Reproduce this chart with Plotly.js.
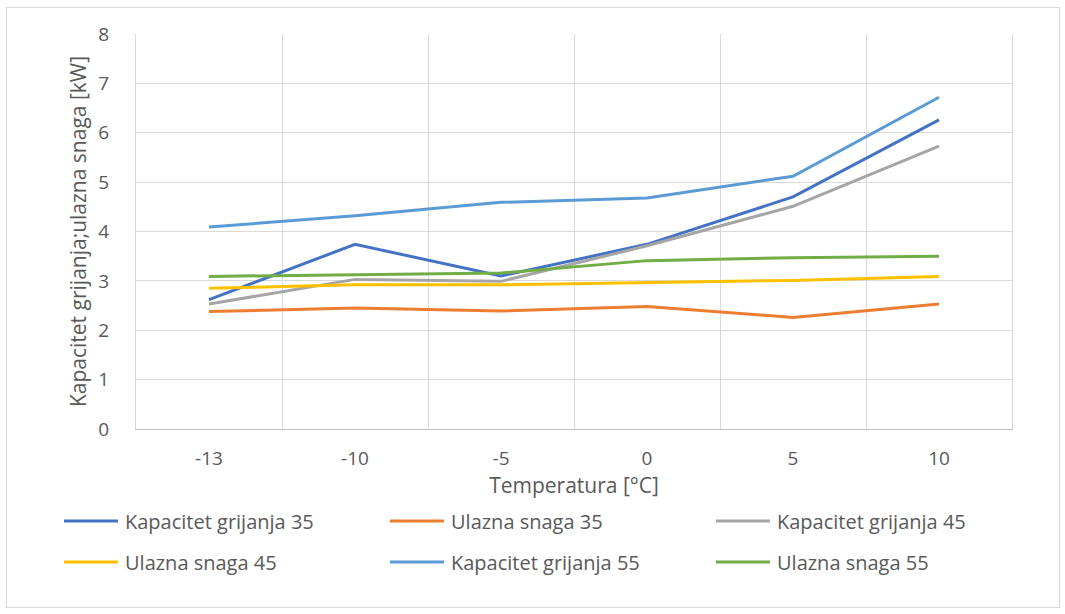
<!DOCTYPE html>
<html>
<head>
<meta charset="utf-8">
<script src="https://cdn.plot.ly/plotly-3.0.1.min.js"></script>
<style>
html,body{margin:0;padding:0;background:#fff;}
#wrap{position:relative;width:1065px;height:614px;}
#chart{width:1065px;height:614px;}
#frame{position:absolute;left:6px;top:7px;width:1052px;height:599px;border:1px solid #D9D9D9;pointer-events:none;}
</style>
</head>
<body>
<div id="wrap"><div id="chart"></div><div id="frame"></div></div>
<script>
const categories = ["-13", "-10", "-5", "0", "5", "10"];
const kapacitet35 = [2.62, 3.74, 3.10, 3.74, 4.70, 6.26];
const ulazna35 = [2.38, 2.45, 2.39, 2.48, 2.26, 2.53];
const kapacitet45 = [2.53, 3.03, 2.99, 3.71, 4.51, 5.73];
const ulazna45 = [2.85, 2.92, 2.92, 2.97, 3.01, 3.09];
const kapacitet55 = [4.09, 4.32, 4.59, 4.68, 5.12, 6.72];
const ulazna55 = [3.09, 3.13, 3.16, 3.41, 3.47, 3.50];
const seriesNames = ["Kapacitet grijanja 35", "Ulazna snaga 35", "Kapacitet grijanja 45",
                     "Ulazna snaga 45", "Kapacitet grijanja 55", "Ulazna snaga 55"];
const seriesColors = ["#4472C4", "#ED7D31", "#A5A5A5", "#FFC000", "#5B9BD5", "#70AD47"];
const seriesValues = [kapacitet35, ulazna35, kapacitet45, ulazna45, kapacitet55, ulazna55];

const font = "Open Sans, Liberation Sans, sans-serif";
const textColor = "#595959";
const traces = seriesValues.map((v, i) => ({
  type: "scatter", mode: "lines", x: categories, y: v, name: seriesNames[i],
  line: {color: seriesColors[i], width: 3}, showlegend: false
}));

// Excel-style legend below the plot (3 columns x 2 rows), built from the series arrays
const W = 1065, H = 614, mL = 136, mR = 53, mT = 34, mB = 185;
const pw = W - mL - mR, ph = H - mT - mB;
const toPX = px => (px - mL) / pw;
const toPY = py => (H - mB - py) / ph;
const legCol0 = 64, legColStep = 326, legLineLen = 54, legTextGap = 5;
const legRow0 = 521, legRowStep = 41;
const shapes = [], annotations = [];
seriesNames.forEach((name, i) => {
  const col = i % 3, row = Math.floor(i / 3);
  const x0 = legCol0 + col * legColStep, yy = legRow0 + row * legRowStep;
  shapes.push({type: "line", xref: "paper", yref: "paper",
    x0: toPX(x0), x1: toPX(x0 + legLineLen), y0: toPY(yy), y1: toPY(yy),
    line: {color: seriesColors[i], width: 3}});
  annotations.push({xref: "paper", yref: "paper", x: toPX(x0 + legLineLen + legTextGap), y: toPY(yy),
    xanchor: "left", yanchor: "middle", showarrow: false, text: name,
    font: {family: font, size: 20, color: textColor}});
});

const layout = {
  width: W, height: H,
  margin: {l: mL, r: mR, t: mT, b: mB},
  paper_bgcolor: "#fff", plot_bgcolor: "#fff",
  font: {family: font, color: textColor, size: 19},
  showlegend: false,
  shapes: shapes, annotations: annotations,
  xaxis: {
    type: "category", range: [-0.5, 5.5], tickson: "boundaries",
    showgrid: true, gridcolor: "#D9D9D9", gridwidth: 1,
    showline: true, linecolor: "#BFBFBF", linewidth: 1, ticks: "", zeroline: false,
    tickfont: {family: font, size: 19, color: textColor},
    ticklabelstandoff: 12,
    title: {text: "Temperatura [°C]", font: {family: font, size: 21, color: textColor}, standoff: 2},
    fixedrange: true
  },
  yaxis: {
    range: [0, 8], dtick: 1, showgrid: true, gridcolor: "#D9D9D9", gridwidth: 1,
    zeroline: false, showline: true, mirror: true, linecolor: "#D9D9D9", linewidth: 1, ticks: "",
    tickfont: {family: font, size: 19, color: textColor},
    ticklabelstandoff: 22,
    title: {text: "Kapacitet grijanja;ulazna snaga [kW]", font: {family: font, size: 21, color: textColor}, standoff: 5},
    fixedrange: true
  }
};

Plotly.newPlot("chart", traces, layout, {displayModeBar: false, staticPlot: true});
</script>
</body>
</html>
